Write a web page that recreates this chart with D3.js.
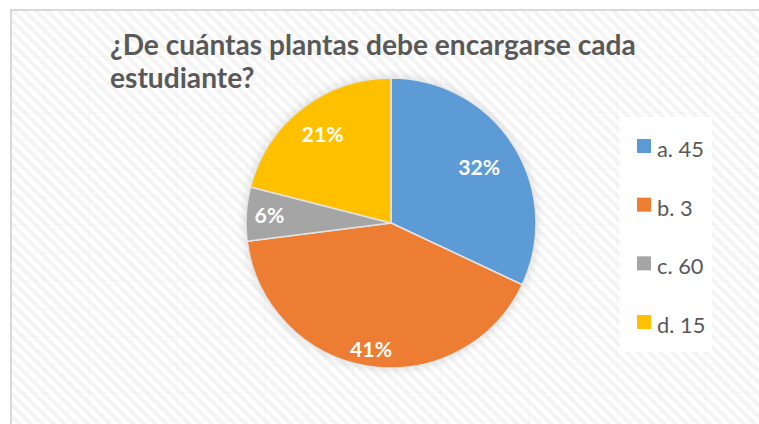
<!DOCTYPE html>
<html>
<head>
<meta charset="utf-8">
<script src="https://cdn.jsdelivr.net/npm/d3@7"></script>
<style>
  html, body { margin: 0; padding: 0; background: #ffffff; }
  svg { display: block; }
</style>
</head>
<body>
<svg id="chart" width="759" height="424"></svg>
<script>
// Chart data
const categories = ["a. 45", "b. 3", "c. 60", "d. 15"];
const values = [32, 41, 6, 21];
const colors = ["#5B9BD5", "#ED7D31", "#A5A5A5", "#FFC000"];
const titleLines = ["¿De cuántas plantas debe encargarse cada", "estudiante?"];

// Radial position of each percentage label (fraction of radius)
const labelRadiusFrac = [0.72, 0.88, 0.84, 0.77];

const W = 759, H = 424;
const FONT = "Lato, 'Open Sans', sans-serif";
const svg = d3.select("#chart");
const defs = svg.append("defs");

// Diagonal stripe background pattern (top-left to bottom-right)
const pat = defs.append("pattern")
  .attr("id", "stripes")
  .attr("patternUnits", "userSpaceOnUse")
  .attr("width", 8).attr("height", 8)
  .attr("patternTransform", "rotate(-45)");
pat.append("rect").attr("width", 8).attr("height", 8).attr("fill", "#ffffff");
pat.append("rect").attr("width", 4).attr("height", 8).attr("fill", "#f4f4f4");

// Faint grid over the stripes
const grid = defs.append("pattern")
  .attr("id", "grid")
  .attr("patternUnits", "userSpaceOnUse")
  .attr("width", 44).attr("height", 28);
grid.append("path")
  .attr("d", "M0 0 V28 M0 0 H44")
  .attr("stroke", "#ececec").attr("stroke-width", 1).attr("fill", "none");

// Soft shadow under the pie
const shadow = defs.append("filter").attr("id", "pieShadow")
  .attr("x", "-20%").attr("y", "-20%").attr("width", "140%").attr("height", "140%");
shadow.append("feGaussianBlur").attr("in", "SourceAlpha").attr("stdDeviation", 5).attr("result", "b");
shadow.append("feComponentTransfer").attr("in", "b").attr("result", "s")
  .append("feFuncA").attr("type", "linear").attr("slope", 0.15);
const merge = shadow.append("feMerge");
merge.append("feMergeNode").attr("in", "s");
merge.append("feMergeNode").attr("in", "SourceGraphic");

// Chart area
svg.append("rect").attr("x", 11).attr("y", 10).attr("width", W).attr("height", H)
  .attr("fill", "url(#stripes)");
svg.append("rect").attr("x", 11).attr("y", 10).attr("width", W).attr("height", H)
  .attr("fill", "url(#grid)").attr("opacity", 0.6);
svg.append("rect").attr("x", 11).attr("y", 10).attr("width", W).attr("height", H)
  .attr("fill", "none").attr("stroke", "#d9d9d9").attr("stroke-width", 2);

// Title
const title = svg.append("text")
  .attr("x", 110).attr("y", 55)
  .attr("font-family", FONT)
  .attr("font-weight", "bold")
  .attr("font-size", 24)
  .attr("fill", "#595959");
title.selectAll("tspan").data(titleLines).join("tspan")
  .attr("x", 110)
  .attr("dy", (d, i) => i === 0 ? 0 : 33)
  .text(d => d);
{
  const first = title.select("tspan").node();
  const w = first.getComputedTextLength();
  title.attr("font-size", (24 * 526 / w).toFixed(2));
}

// Pie
const cx = 391, cy = 223, R = 145;
const pie = d3.pie().sort(null).value(d => d)(values);
const arc = d3.arc().innerRadius(0).outerRadius(R);
const g = svg.append("g").attr("transform", `translate(${cx},${cy})`);

g.append("g").attr("filter", "url(#pieShadow)")
  .selectAll("path").data(pie).join("path")
  .attr("d", arc)
  .attr("fill", (d, i) => colors[i])
  .attr("stroke", "#e3e3e3")
  .attr("stroke-width", 1.5)
  .attr("stroke-linejoin", "round");

const pct = g.selectAll("text.pct").data(pie).join("text")
  .attr("class", "pct")
  .attr("transform", (d, i) => {
    const a = (d.startAngle + d.endAngle) / 2;
    const r = R * labelRadiusFrac[i];
    return `translate(${r * Math.sin(a)},${-r * Math.cos(a)})`;
  })
  .attr("text-anchor", "middle")
  .attr("dy", "0.36em")
  .attr("font-family", FONT)
  .attr("font-weight", "bold")
  .attr("font-size", 18)
  .attr("fill", "#ffffff")
  .text(d => d.data + "%");
{
  const w = pct.nodes()[0].getComputedTextLength();
  pct.attr("font-size", (18 * 42 / w).toFixed(2));
}

// Legend
svg.append("rect").attr("x", 620).attr("y", 117).attr("width", 92).attr("height", 235)
  .attr("fill", "#ffffff");
const legY = d3.scalePoint().domain(categories).range([146, 322]);
const leg = svg.append("g").selectAll("g").data(categories).join("g")
  .attr("transform", d => `translate(637,${legY(d)})`);
leg.append("rect").attr("x", 0).attr("y", -7).attr("width", 14).attr("height", 14)
  .attr("fill", (d, i) => colors[i]);
const legText = leg.append("text").attr("x", 20).attr("y", 0).attr("dy", "0.5em")
  .attr("font-family", FONT)
  .attr("font-size", 18)
  .attr("fill", "#595959")
  .text(d => d);
{
  const w = legText.nodes()[0].getComputedTextLength();
  legText.attr("font-size", (18 * 47 / w).toFixed(2));
}
</script>
</body>
</html>
